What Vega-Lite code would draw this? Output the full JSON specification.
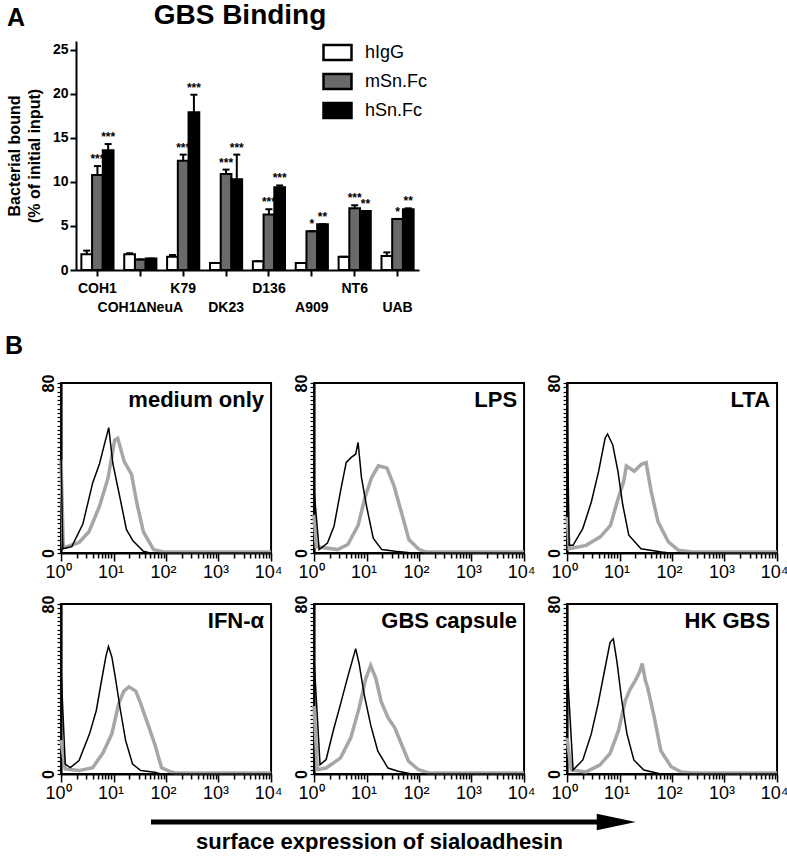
{
  "$schema": "https://vega.github.io/schema/vega-lite/v6.json",
  "padding": {"left": 5, "top": 2, "right": 0, "bottom": 0},
  "config": {
    "font": "Liberation Sans",
    "view": {"stroke": null},
    "axis": {"domainColor": "#000", "tickColor": "#000", "labelColor": "#000", "titleColor": "#000", "grid": false},
    "title": {"color": "#000"},
    "legend": {"labelColor": "#000"},
    "header": {"labels": false, "labelExpr": "''", "labelFontSize": 1, "labelPadding": 0, "titlePadding": 0},
    "headerFacet": {"labels": false, "labelExpr": "''", "labelFontSize": 1, "labelPadding": 0, "titlePadding": 0}
  },
  "title": {"text": "A", "anchor": "start", "frame": "bounds", "fontSize": 25, "fontWeight": "bold", "offset": -29, "dx": 2},
  "spacing": 20,
  "vconcat": [
    {
      "width": 358,
      "height": 229,
      "title": {"text": "GBS Binding", "fontSize": 28, "fontWeight": "bold", "anchor": "middle", "offset": 11},
      "data": {"name": "bars"},
      "encoding": {
        "x": {"field": "strain", "type": "nominal", "sort": ["COH1", "COH1ΔNeuA", "K79", "DK23", "D136", "A909", "NT6", "UAB"],
              "scale": {"range": [15, 358], "paddingInner": 0.25, "paddingOuter": 0.125},
              "axis": {"title": null, "labelFontSize": 14, "labelFontWeight": "bold", "labelAngle": 0, "tickSize": 6, "tickWidth": 2, "domainWidth": 2,
                       "labelOverlap": false, "labelBound": false, "labelFlush": false,
                       "labelPadding": {"condition": {"test": "indexof(['COH1ΔNeuA','DK23','A909','UAB'], datum.value) >= 0", "value": 24}, "value": 5}}},
        "xOffset": {"field": "series", "type": "nominal", "sort": ["hIgG", "mSn.Fc", "hSn.Fc"]}
      },
      "layer": [
        {
          "mark": {"type": "bar", "stroke": "#000", "strokeWidth": 2},
          "encoding": {
            "y": {"field": "value", "type": "quantitative", "scale": {"domain": [0, 25]},
                  "axis": {"title": ["Bacterial bound", "(% of initial input)"], "titleFontSize": 16, "titleFontWeight": "bold", "titleLineHeight": 20,
                           "values": [0, 5, 10, 15, 20, 25], "labelFontSize": 14, "labelFontWeight": "bold", "tickSize": 6, "tickWidth": 2, "domainWidth": 2,
                           "labelPadding": 2, "titlePadding": 10, "offset": -15}},
            "fill": {"field": "series", "type": "nominal", "scale": {"domain": ["hIgG", "mSn.Fc", "hSn.Fc"], "range": ["#ffffff", "#6a6a6a", "#000000"]},
                     "legend": {"title": null, "orient": "none", "legendX": 261, "legendY": -4, "symbolType": "M-1,-0.54H1V0.54H-1Z", "symbolSize": 784,
                                "symbolStrokeColor": "#000", "symbolStrokeWidth": 2.5, "labelFontSize": 18, "rowPadding": -3, "labelOffset": 12}}
          }
        },
        {
          "mark": {"type": "rule", "strokeWidth": 2, "color": "#000"},
          "encoding": {"y": {"field": "value", "type": "quantitative"}, "y2": {"field": "upper"}}
        },
        {
          "mark": {"type": "tick", "thickness": 2, "size": 7, "color": "#000", "opacity": 1},
          "encoding": {"y": {"field": "upper", "type": "quantitative"}}
        },
        {
          "mark": {"type": "text", "baseline": "bottom", "fontWeight": "bold", "fontSize": 12, "color": "#000"},
          "encoding": {"y": {"field": "upper", "type": "quantitative"}, "text": {"field": "stars"}}
        }
      ]
    },
    {
      "title": {"text": "B", "anchor": "start", "frame": "bounds", "fontSize": 25, "fontWeight": "bold", "offset": 13},
      "center": true,
      "spacing": 10,
      "vconcat": [
        {
          "data": {"name": "flow"},
          "facet": {"field": "p", "type": "nominal", "sort": ["medium only", "LPS", "LTA", "IFN-α", "GBS capsule", "HK GBS"], "header": {"title": null, "labels": false, "labelExpr": "''"}},
          "columns": 3,
          "spacing": {"row": 51, "column": 43},
          "bounds": "flush",
          "resolve": {"axis": {"x": "independent", "y": "independent"}},
          "spec": {
            "width": 210,
            "height": 170,
            "view": {"stroke": "#000", "strokeWidth": 2},
            "encoding": {
              "x": {"field": "x", "type": "quantitative", "scale": {"type": "log", "domain": [1, 10000]},
                    "axis": {"title": null, "values": [1,2,3,4,5,6,7,8,9,10,20,30,40,50,60,70,80,90,100,200,300,400,500,600,700,800,900,1000,2000,3000,4000,5000,6000,7000,8000,9000,10000],
                             "labelExpr": "datum.value==1?'10⁰':datum.value==10?'10¹':datum.value==100?'10²':datum.value==1000?'10³':datum.value==10000?'10⁴':''",
                             "tickSize": {"condition": {"test": "indexof([1,10,100,1000,10000], datum.value) >= 0", "value": 8}, "value": 5},
                             "tickWidth": 1.5, "domainWidth": 2, "labelFontSize": 18, "labelPadding": 2, "labelOffset": -3, "labelFlush": false, "labelOverlap": false, "labelBound": false}},
              "y": {"field": "y", "type": "quantitative", "scale": {"domain": [0, 80], "nice": false},
                    "axis": {"title": null, "values": [0,2,4,6,8,10,12,14,16,18,20,22,24,26,28,30,32,34,36,38,40,42,44,46,48,50,52,54,56,58,60,62,64,66,68,70,72,74,76,78,80],
                             "labelExpr": "datum.value==0||datum.value==80?datum.label:''", "labelAngle": -90, "labelFontSize": 16, "labelFontWeight": "bold",
                             "tickSize": 4, "tickWidth": 1.2, "domainWidth": 2, "labelPadding": 1, "minExtent": 55,
                             "labelFlush": false, "labelOverlap": false, "labelBound": false}}
            },
            "layer": [
              {"transform": [{"filter": "datum.s == 'Sn'"}], "mark": {"type": "line", "color": "#a6a6a6", "strokeWidth": 3.5}},
              {"transform": [{"filter": "datum.s == 'iso'"}], "mark": {"type": "line", "color": "#000", "strokeWidth": 1.5}},
              {"transform": [{"filter": "datum.s == 'iso' && datum.x == 10000"}],
               "mark": {"type": "text", "align": "right", "baseline": "top", "dx": -7, "dy": 7, "fontSize": 22, "fontWeight": "bold", "color": "#000"},
               "encoding": {"x": {"datum": 10000}, "y": {"datum": 80}, "text": {"field": "p"}}}
            ]
          }
        },
        {
          "width": 548,
          "height": 18,
          "data": {"values": [{}]},
          "layer": [
            {"mark": {"type": "rule", "strokeWidth": 5, "color": "#000"},
             "encoding": {
               "x": {"datum": 0, "type": "quantitative", "scale": {"domain": [0, 1]},
                     "axis": {"title": "surface expression of sialoadhesin", "labels": false, "ticks": false, "domain": false, "titleFontSize": 22, "titleFontWeight": "bold", "titlePadding": 0, "titleX": 228, "titleAlign": "center"}},
               "x2": {"datum": 0.82},
               "y": {"datum": 0, "type": "quantitative", "scale": {"domain": [-1, 1]}, "axis": null}}},
            {"mark": {"type": "point", "shape": "M-1,-0.42L1,0L-1,0.42Z", "filled": true, "color": "#000", "opacity": 1, "size": 1521},
             "encoding": {"x": {"datum": 0.849}, "y": {"datum": 0}}}
          ]
        }
      ]
    }
  ],
  "datasets": {
    "bars": [
      {"strain": "COH1", "series": "hIgG", "value": 1.8, "upper": 2.2, "stars": ""},
      {"strain": "COH1", "series": "mSn.Fc", "value": 10.8, "upper": 11.8, "stars": "***"},
      {"strain": "COH1", "series": "hSn.Fc", "value": 13.6, "upper": 14.3, "stars": "***"},
      {"strain": "COH1ΔNeuA", "series": "hIgG", "value": 1.8, "upper": 1.9, "stars": ""},
      {"strain": "COH1ΔNeuA", "series": "mSn.Fc", "value": 1.2, "upper": 1.2, "stars": ""},
      {"strain": "COH1ΔNeuA", "series": "hSn.Fc", "value": 1.3, "upper": 1.3, "stars": ""},
      {"strain": "K79", "series": "hIgG", "value": 1.5, "upper": 1.7, "stars": ""},
      {"strain": "K79", "series": "mSn.Fc", "value": 12.4, "upper": 13.1, "stars": "***"},
      {"strain": "K79", "series": "hSn.Fc", "value": 17.9, "upper": 19.9, "stars": "***"},
      {"strain": "DK23", "series": "hIgG", "value": 0.8, "upper": 0.8, "stars": ""},
      {"strain": "DK23", "series": "mSn.Fc", "value": 10.9, "upper": 11.4, "stars": "***"},
      {"strain": "DK23", "series": "hSn.Fc", "value": 10.3, "upper": 13.1, "stars": "***"},
      {"strain": "D136", "series": "hIgG", "value": 1.0, "upper": 1.0, "stars": ""},
      {"strain": "D136", "series": "mSn.Fc", "value": 6.3, "upper": 6.9, "stars": "***"},
      {"strain": "D136", "series": "hSn.Fc", "value": 9.4, "upper": 9.6, "stars": "***"},
      {"strain": "A909", "series": "hIgG", "value": 0.8, "upper": 0.8, "stars": ""},
      {"strain": "A909", "series": "mSn.Fc", "value": 4.4, "upper": 4.4, "stars": "*"},
      {"strain": "A909", "series": "hSn.Fc", "value": 5.2, "upper": 5.2, "stars": "**"},
      {"strain": "NT6", "series": "hIgG", "value": 1.5, "upper": 1.5, "stars": ""},
      {"strain": "NT6", "series": "mSn.Fc", "value": 7.0, "upper": 7.35, "stars": "***"},
      {"strain": "NT6", "series": "hSn.Fc", "value": 6.7, "upper": 6.7, "stars": "**"},
      {"strain": "UAB", "series": "hIgG", "value": 1.6, "upper": 2.0, "stars": ""},
      {"strain": "UAB", "series": "mSn.Fc", "value": 5.8, "upper": 5.8, "stars": "*"},
      {"strain": "UAB", "series": "hSn.Fc", "value": 6.9, "upper": 7.0, "stars": "**"}
    ],
    "flow": [
      {"p": "medium only", "s": "iso", "x": 1, "y": 47}, {"p": "medium only", "s": "iso", "x": 1.08, "y": 2}, {"p": "medium only", "s": "iso", "x": 1.6, "y": 3},
      {"p": "medium only", "s": "iso", "x": 2.6, "y": 13.6}, {"p": "medium only", "s": "iso", "x": 4, "y": 33}, {"p": "medium only", "s": "iso", "x": 5.4, "y": 42},
      {"p": "medium only", "s": "iso", "x": 7, "y": 53}, {"p": "medium only", "s": "iso", "x": 8.1, "y": 59}, {"p": "medium only", "s": "iso", "x": 9.7, "y": 42},
      {"p": "medium only", "s": "iso", "x": 13, "y": 27}, {"p": "medium only", "s": "iso", "x": 17.6, "y": 11}, {"p": "medium only", "s": "iso", "x": 23.6, "y": 5.6},
      {"p": "medium only", "s": "iso", "x": 37, "y": 0.8}, {"p": "medium only", "s": "iso", "x": 50, "y": 0}, {"p": "medium only", "s": "iso", "x": 10000, "y": 0},
      {"p": "medium only", "s": "Sn", "x": 1, "y": 44}, {"p": "medium only", "s": "Sn", "x": 1.1, "y": 3}, {"p": "medium only", "s": "Sn", "x": 1.3, "y": 3},
      {"p": "medium only", "s": "Sn", "x": 2.2, "y": 5}, {"p": "medium only", "s": "Sn", "x": 3.4, "y": 10}, {"p": "medium only", "s": "Sn", "x": 5.4, "y": 22},
      {"p": "medium only", "s": "Sn", "x": 7.8, "y": 35}, {"p": "medium only", "s": "Sn", "x": 10.5, "y": 53}, {"p": "medium only", "s": "Sn", "x": 12, "y": 54},
      {"p": "medium only", "s": "Sn", "x": 16, "y": 43}, {"p": "medium only", "s": "Sn", "x": 22, "y": 37}, {"p": "medium only", "s": "Sn", "x": 27.5, "y": 24},
      {"p": "medium only", "s": "Sn", "x": 37, "y": 10}, {"p": "medium only", "s": "Sn", "x": 58, "y": 1.6}, {"p": "medium only", "s": "Sn", "x": 90, "y": 0.5},
      {"p": "medium only", "s": "Sn", "x": 10000, "y": 0.5},

      {"p": "LPS", "s": "iso", "x": 1, "y": 29.5}, {"p": "LPS", "s": "iso", "x": 1.25, "y": 1.6}, {"p": "LPS", "s": "iso", "x": 1.8, "y": 4.7},
      {"p": "LPS", "s": "iso", "x": 2.4, "y": 12.6}, {"p": "LPS", "s": "iso", "x": 3.3, "y": 31}, {"p": "LPS", "s": "iso", "x": 4.1, "y": 42.6},
      {"p": "LPS", "s": "iso", "x": 5.1, "y": 45}, {"p": "LPS", "s": "iso", "x": 6.2, "y": 46.5}, {"p": "LPS", "s": "iso", "x": 6.9, "y": 52},
      {"p": "LPS", "s": "iso", "x": 8, "y": 35.5}, {"p": "LPS", "s": "iso", "x": 10, "y": 22}, {"p": "LPS", "s": "iso", "x": 13.4, "y": 7},
      {"p": "LPS", "s": "iso", "x": 19.5, "y": 1.6}, {"p": "LPS", "s": "iso", "x": 35, "y": 0.8}, {"p": "LPS", "s": "iso", "x": 74, "y": 0},
      {"p": "LPS", "s": "iso", "x": 10000, "y": 0},
      {"p": "LPS", "s": "Sn", "x": 1, "y": 18}, {"p": "LPS", "s": "Sn", "x": 1.1, "y": 3}, {"p": "LPS", "s": "Sn", "x": 2.8, "y": 1.6},
      {"p": "LPS", "s": "Sn", "x": 4.4, "y": 4}, {"p": "LPS", "s": "Sn", "x": 6.9, "y": 13}, {"p": "LPS", "s": "Sn", "x": 9.3, "y": 26},
      {"p": "LPS", "s": "Sn", "x": 12.5, "y": 35.5}, {"p": "LPS", "s": "Sn", "x": 16.8, "y": 41}, {"p": "LPS", "s": "Sn", "x": 24.4, "y": 40},
      {"p": "LPS", "s": "Sn", "x": 33, "y": 32}, {"p": "LPS", "s": "Sn", "x": 47.5, "y": 18}, {"p": "LPS", "s": "Sn", "x": 64, "y": 6.3},
      {"p": "LPS", "s": "Sn", "x": 100, "y": 1.6}, {"p": "LPS", "s": "Sn", "x": 134, "y": 0.5}, {"p": "LPS", "s": "Sn", "x": 10000, "y": 0.5},

      {"p": "LTA", "s": "iso", "x": 1, "y": 68}, {"p": "LTA", "s": "iso", "x": 1.1, "y": 3.6}, {"p": "LTA", "s": "iso", "x": 1.3, "y": 3.6},
      {"p": "LTA", "s": "iso", "x": 2.0, "y": 11.6}, {"p": "LTA", "s": "iso", "x": 2.9, "y": 24}, {"p": "LTA", "s": "iso", "x": 4, "y": 38.5},
      {"p": "LTA", "s": "iso", "x": 5.3, "y": 54}, {"p": "LTA", "s": "iso", "x": 5.9, "y": 56}, {"p": "LTA", "s": "iso", "x": 7.4, "y": 51},
      {"p": "LTA", "s": "iso", "x": 9.3, "y": 38.5}, {"p": "LTA", "s": "iso", "x": 11.5, "y": 22.7}, {"p": "LTA", "s": "iso", "x": 15, "y": 8.4},
      {"p": "LTA", "s": "iso", "x": 25.6, "y": 2}, {"p": "LTA", "s": "iso", "x": 63, "y": 0.5}, {"p": "LTA", "s": "iso", "x": 90, "y": 0},
      {"p": "LTA", "s": "iso", "x": 10000, "y": 0},
      {"p": "LTA", "s": "Sn", "x": 1, "y": 17}, {"p": "LTA", "s": "Sn", "x": 1.1, "y": 2}, {"p": "LTA", "s": "Sn", "x": 2.3, "y": 3.6},
      {"p": "LTA", "s": "Sn", "x": 4.3, "y": 7.6}, {"p": "LTA", "s": "Sn", "x": 6.7, "y": 13}, {"p": "LTA", "s": "Sn", "x": 9, "y": 24},
      {"p": "LTA", "s": "Sn", "x": 12, "y": 33.7}, {"p": "LTA", "s": "Sn", "x": 13.5, "y": 41}, {"p": "LTA", "s": "Sn", "x": 19, "y": 38.5},
      {"p": "LTA", "s": "Sn", "x": 26, "y": 41.7}, {"p": "LTA", "s": "Sn", "x": 32, "y": 42.5}, {"p": "LTA", "s": "Sn", "x": 40, "y": 29},
      {"p": "LTA", "s": "Sn", "x": 54, "y": 14.7}, {"p": "LTA", "s": "Sn", "x": 85, "y": 5.2}, {"p": "LTA", "s": "Sn", "x": 133, "y": 1.3},
      {"p": "LTA", "s": "Sn", "x": 240, "y": 0.5}, {"p": "LTA", "s": "Sn", "x": 10000, "y": 0.5},

      {"p": "IFN-α", "s": "iso", "x": 1, "y": 49}, {"p": "IFN-α", "s": "iso", "x": 1.2, "y": 4.7}, {"p": "IFN-α", "s": "iso", "x": 1.5, "y": 3},
      {"p": "IFN-α", "s": "iso", "x": 2.2, "y": 6.3}, {"p": "IFN-α", "s": "iso", "x": 3.5, "y": 19}, {"p": "IFN-α", "s": "iso", "x": 4.7, "y": 30},
      {"p": "IFN-α", "s": "iso", "x": 5.9, "y": 44}, {"p": "IFN-α", "s": "iso", "x": 7.2, "y": 55.7}, {"p": "IFN-α", "s": "iso", "x": 8, "y": 60},
      {"p": "IFN-α", "s": "iso", "x": 9.3, "y": 55}, {"p": "IFN-α", "s": "iso", "x": 10.8, "y": 45.5}, {"p": "IFN-α", "s": "iso", "x": 13.5, "y": 30},
      {"p": "IFN-α", "s": "iso", "x": 17, "y": 15.7}, {"p": "IFN-α", "s": "iso", "x": 23, "y": 4.7}, {"p": "IFN-α", "s": "iso", "x": 33, "y": 1.6},
      {"p": "IFN-α", "s": "iso", "x": 61, "y": 0.8}, {"p": "IFN-α", "s": "iso", "x": 80, "y": 0}, {"p": "IFN-α", "s": "iso", "x": 10000, "y": 0},
      {"p": "IFN-α", "s": "Sn", "x": 1, "y": 16}, {"p": "IFN-α", "s": "Sn", "x": 1.2, "y": 2.4}, {"p": "IFN-α", "s": "Sn", "x": 2.2, "y": 1.6},
      {"p": "IFN-α", "s": "Sn", "x": 4, "y": 3}, {"p": "IFN-α", "s": "Sn", "x": 6.3, "y": 10}, {"p": "IFN-α", "s": "Sn", "x": 9.3, "y": 19},
      {"p": "IFN-α", "s": "Sn", "x": 12.5, "y": 33}, {"p": "IFN-α", "s": "Sn", "x": 15.7, "y": 39}, {"p": "IFN-α", "s": "Sn", "x": 19.6, "y": 41},
      {"p": "IFN-α", "s": "Sn", "x": 26.5, "y": 39}, {"p": "IFN-α", "s": "Sn", "x": 33, "y": 33}, {"p": "IFN-α", "s": "Sn", "x": 45, "y": 23.5},
      {"p": "IFN-α", "s": "Sn", "x": 61, "y": 14}, {"p": "IFN-α", "s": "Sn", "x": 82, "y": 3}, {"p": "IFN-α", "s": "Sn", "x": 128, "y": 0.8},
      {"p": "IFN-α", "s": "Sn", "x": 150, "y": 0.5}, {"p": "IFN-α", "s": "Sn", "x": 10000, "y": 0.5},

      {"p": "GBS capsule", "s": "iso", "x": 1, "y": 54}, {"p": "GBS capsule", "s": "iso", "x": 1.3, "y": 4.4}, {"p": "GBS capsule", "s": "iso", "x": 1.7, "y": 6.8},
      {"p": "GBS capsule", "s": "iso", "x": 2.3, "y": 20}, {"p": "GBS capsule", "s": "iso", "x": 3.2, "y": 33}, {"p": "GBS capsule", "s": "iso", "x": 4.3, "y": 45},
      {"p": "GBS capsule", "s": "iso", "x": 5.3, "y": 53}, {"p": "GBS capsule", "s": "iso", "x": 6.2, "y": 59}, {"p": "GBS capsule", "s": "iso", "x": 7.2, "y": 52},
      {"p": "GBS capsule", "s": "iso", "x": 9, "y": 37.5}, {"p": "GBS capsule", "s": "iso", "x": 12, "y": 23}, {"p": "GBS capsule", "s": "iso", "x": 16.4, "y": 10.7},
      {"p": "GBS capsule", "s": "iso", "x": 25.6, "y": 2.8}, {"p": "GBS capsule", "s": "iso", "x": 40, "y": 1.3}, {"p": "GBS capsule", "s": "iso", "x": 73, "y": 0},
      {"p": "GBS capsule", "s": "iso", "x": 10000, "y": 0},
      {"p": "GBS capsule", "s": "Sn", "x": 1, "y": 32}, {"p": "GBS capsule", "s": "Sn", "x": 1.15, "y": 2}, {"p": "GBS capsule", "s": "Sn", "x": 1.7, "y": 2.8},
      {"p": "GBS capsule", "s": "Sn", "x": 3.2, "y": 7.6}, {"p": "GBS capsule", "s": "Sn", "x": 5, "y": 17}, {"p": "GBS capsule", "s": "Sn", "x": 7.2, "y": 31},
      {"p": "GBS capsule", "s": "Sn", "x": 9.7, "y": 45}, {"p": "GBS capsule", "s": "Sn", "x": 12, "y": 51}, {"p": "GBS capsule", "s": "Sn", "x": 15, "y": 45},
      {"p": "GBS capsule", "s": "Sn", "x": 19, "y": 34}, {"p": "GBS capsule", "s": "Sn", "x": 25.6, "y": 26.5}, {"p": "GBS capsule", "s": "Sn", "x": 34.5, "y": 21.7},
      {"p": "GBS capsule", "s": "Sn", "x": 46.5, "y": 13.9}, {"p": "GBS capsule", "s": "Sn", "x": 63, "y": 6}, {"p": "GBS capsule", "s": "Sn", "x": 98, "y": 2},
      {"p": "GBS capsule", "s": "Sn", "x": 154, "y": 0.5}, {"p": "GBS capsule", "s": "Sn", "x": 10000, "y": 0.5},

      {"p": "HK GBS", "s": "iso", "x": 1, "y": 51}, {"p": "HK GBS", "s": "iso", "x": 1.3, "y": 1.9}, {"p": "HK GBS", "s": "iso", "x": 2.0, "y": 6.6},
      {"p": "HK GBS", "s": "iso", "x": 2.9, "y": 19}, {"p": "HK GBS", "s": "iso", "x": 3.9, "y": 33}, {"p": "HK GBS", "s": "iso", "x": 5.3, "y": 50},
      {"p": "HK GBS", "s": "iso", "x": 6.6, "y": 62}, {"p": "HK GBS", "s": "iso", "x": 7.6, "y": 63.6}, {"p": "HK GBS", "s": "iso", "x": 8.9, "y": 53},
      {"p": "HK GBS", "s": "iso", "x": 11, "y": 34.7}, {"p": "HK GBS", "s": "iso", "x": 13.8, "y": 19}, {"p": "HK GBS", "s": "iso", "x": 18.7, "y": 6.6},
      {"p": "HK GBS", "s": "iso", "x": 29, "y": 1.9}, {"p": "HK GBS", "s": "iso", "x": 61, "y": 0}, {"p": "HK GBS", "s": "iso", "x": 10000, "y": 0},
      {"p": "HK GBS", "s": "Sn", "x": 1, "y": 17}, {"p": "HK GBS", "s": "Sn", "x": 1.2, "y": 1.9}, {"p": "HK GBS", "s": "Sn", "x": 2.3, "y": 1},
      {"p": "HK GBS", "s": "Sn", "x": 4.2, "y": 4.2}, {"p": "HK GBS", "s": "Sn", "x": 6.6, "y": 9.7}, {"p": "HK GBS", "s": "Sn", "x": 9.6, "y": 20.6},
      {"p": "HK GBS", "s": "Sn", "x": 12.9, "y": 34.7}, {"p": "HK GBS", "s": "Sn", "x": 16, "y": 40}, {"p": "HK GBS", "s": "Sn", "x": 20, "y": 44},
      {"p": "HK GBS", "s": "Sn", "x": 24, "y": 48}, {"p": "HK GBS", "s": "Sn", "x": 27, "y": 52}, {"p": "HK GBS", "s": "Sn", "x": 31, "y": 44},
      {"p": "HK GBS", "s": "Sn", "x": 34, "y": 41}, {"p": "HK GBS", "s": "Sn", "x": 45.5, "y": 27}, {"p": "HK GBS", "s": "Sn", "x": 61, "y": 11},
      {"p": "HK GBS", "s": "Sn", "x": 96, "y": 3.4}, {"p": "HK GBS", "s": "Sn", "x": 148, "y": 1}, {"p": "HK GBS", "s": "Sn", "x": 233, "y": 0.5},
      {"p": "HK GBS", "s": "Sn", "x": 10000, "y": 0.5}
    ]
  }
}
